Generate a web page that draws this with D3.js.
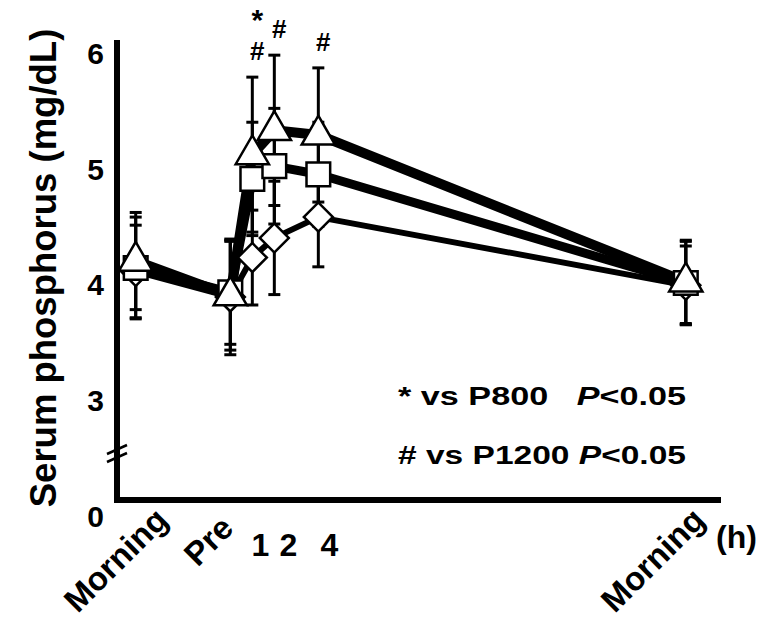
<!DOCTYPE html>
<html>
<head>
<meta charset="utf-8">
<title>Serum phosphorus</title>
<script src="https://d3js.org/d3.v7.min.js"></script>
<style>
  body { margin: 0; background: #fff; }
  text { font-family: "Liberation Sans", Arial, sans-serif; font-weight: bold; fill: #000; }
</style>
</head>
<body>
<script>
// time points in hours relative to "Pre" (the mornings are placed on the same hour axis)
var hours = [-4.3, 0, 1, 2, 4, 20.7];
var hourLabels = ["Morning", "Pre", "1", "2", "4", "Morning"];
var rotatedLabel = [true, true, false, false, false, true];

// means (mg/dL)
var triangleMean = [4.21, 3.91, 5.13, 5.34, 5.30, 4.03];
var squareMean   = [4.15, 3.94, 4.92, 5.03, 4.96, 4.02];
var diamondMean  = [4.12, 3.90, 4.24, 4.41, 4.59, 4.00];
// SD
var triangleSd = [0.42, 0.47, 0.67, 0.65, 0.58, 0.36];
var squareSd   = [0.44, 0.45, 0.49, 0.50, 0.45, 0.36];
var diamondSd  = [0.40, 0.50, 0.41, 0.49, 0.43, 0.34];

var yTicks = [3, 4, 5, 6];

// significance marks above the points
var sigMarks = [
    {hour: 1, text: "*", row: 0},
    {hour: 1, text: "#", row: 1},
    {hour: 2, text: "#", row: 1},
    {hour: 4, text: "#", row: 1}
];

var width = 757, height = 619;
var svg = d3.select("body").append("svg")
    .attr("width", width)
    .attr("height", height);

var x = d3.scaleLinear().domain([-5.15, 22.3]).range([117, 721]);
var y = d3.scaleLinear().domain([3, 6]).range([401, 54]);
var yZero = 500;

// axes
svg.append("line")
    .attr("x1", 117).attr("x2", 117)
    .attr("y1", 40).attr("y2", yZero + 3)
    .attr("stroke", "#000").attr("stroke-width", 6);
svg.append("line")
    .attr("x1", 114).attr("x2", 721)
    .attr("y1", yZero).attr("y2", yZero)
    .attr("stroke", "#000").attr("stroke-width", 6);

// axis break
[-4, 4].forEach(function(d) {
    svg.append("line")
        .attr("x1", 107).attr("x2", 127)
        .attr("y1", 458 + d).attr("y2", 449 + d)
        .attr("stroke", "#000").attr("stroke-width", 2.5);
});

var yAxis = svg.append("g")
    .attr("transform", "translate(117,0)")
    .call(d3.axisLeft(y).tickValues(yTicks).tickFormat(d3.format("d")).tickSize(0).tickPadding(13));
yAxis.select(".domain").remove();
yAxis.selectAll("text")
    .attr("font-size", null)
    .style("font-size", "30px")
    .style("font-family", "'Liberation Sans', Arial, sans-serif")
    .style("font-weight", "bold");
svg.append("text")
    .attr("x", 104).attr("y", yZero + 17)
    .attr("dy", "0.32em")
    .attr("text-anchor", "end")
    .style("font-size", "30px")
    .text("0");

// y title
svg.append("text")
    .attr("transform", "translate(56,268) rotate(-90)")
    .attr("text-anchor", "middle")
    .style("font-size", "36.5px")
    .text("Serum phosphorus (mg/dL)");

// x labels (the rotated ones are placed by hand in the original)
var labelShift = [34, 5, 8, 14, 11, 21];
var labelDrop = [22, 30, 0, 0, 0, 22];
hourLabels.forEach(function(lab, i) {
    if (rotatedLabel[i]) {
        svg.append("text")
            .attr("transform", "translate(" + (x(hours[i]) + labelShift[i]) + "," + (yZero + labelDrop[i]) + ") rotate(-45)")
            .attr("text-anchor", "end")
            .style("font-size", "33px")
            .text(lab);
    } else {
        svg.append("text")
            .attr("x", x(hours[i]) + labelShift[i])
            .attr("y", yZero + 56)
            .attr("text-anchor", "middle")
            .style("font-size", "32px")
            .text(lab);
    }
});
svg.append("text")
    .attr("x", 716).attr("y", yZero + 48)
    .style("font-size", "32px")
    .text("(h)");

var series = [
    {mean: diamondMean, sd: diamondSd, shape: "diamond", lw: 6},
    {mean: squareMean, sd: squareSd, shape: "square", lw: 9},
    {mean: triangleMean, sd: triangleSd, shape: "triangle", lw: 10}
];

var line = d3.line()
    .x(function(d, i) { return x(hours[i]); })
    .y(function(d) { return y(d); });

// lines
series.forEach(function(s) {
    svg.append("path")
        .attr("d", line(s.mean))
        .attr("fill", "none")
        .attr("stroke", "#000")
        .attr("stroke-width", s.lw)
        .attr("stroke-linejoin", "round");
});

// error bars
series.forEach(function(s) {
    s.mean.forEach(function(m, i) {
        var cx = x(hours[i]);
        var g = svg.append("g").attr("stroke", "#000");
        g.append("line")
            .attr("x1", cx).attr("x2", cx)
            .attr("y1", y(m + s.sd[i])).attr("y2", y(m - s.sd[i]))
            .attr("stroke-width", 3);
        [m + s.sd[i], m - s.sd[i]].forEach(function(v) {
            g.append("line")
                .attr("x1", cx - 6).attr("x2", cx + 6)
                .attr("y1", y(v)).attr("y2", y(v))
                .attr("stroke-width", 3);
        });
    });
});

// markers
var symbols = {
    diamond: d3.symbol().type(d3.symbolSquare).size(420),
    square: d3.symbol().type(d3.symbolSquare).size(560),
    triangle: d3.symbol().type(d3.symbolTriangle).size(480)
};
series.forEach(function(s) {
    svg.append("g").selectAll("path")
        .data(s.mean)
        .join("path")
        .attr("d", symbols[s.shape])
        .attr("transform", function(d, i) {
            return "translate(" + x(hours[i]) + "," + y(d) + ")" + (s.shape === "diamond" ? " rotate(45)" : "");
        })
        .attr("fill", "#fff")
        .attr("stroke", "#000")
        .attr("stroke-width", 2.5);
});

// significance marks
svg.append("g").selectAll("text")
    .data(sigMarks)
    .join("text")
    .attr("x", function(d) { return x(d.hour) + 5; })
    .attr("y", function(d) {
        var i = hours.indexOf(d.hour);
        var top = d3.max(series, function(s) { return s.mean[i] + s.sd[i]; });
        return d.row === 0 ? y(top) - 47 : y(top) - 17;
    })
    .attr("text-anchor", "middle")
    .style("font-size", function(d) { return d.text === "*" ? "30px" : "26px"; })
    .text(function(d) { return d.text; });

// legend text
var legend = [
    {mark: "*", label: " vs P800   ", y: 405},
    {mark: "#", label: " vs P1200 ", y: 464}
];
legend.forEach(function(l) {
    var t = svg.append("text")
        .attr("x", 398).attr("y", l.y)
        .style("font-size", "26px")
        .style("white-space", "pre")
        .attr("textLength", 288)
        .attr("lengthAdjust", "spacingAndGlyphs");
    t.append("tspan").text(l.mark + l.label);
    t.append("tspan").style("font-style", "italic").text("P");
    t.append("tspan").text("<0.05");
});
</script>
</body>
</html>
